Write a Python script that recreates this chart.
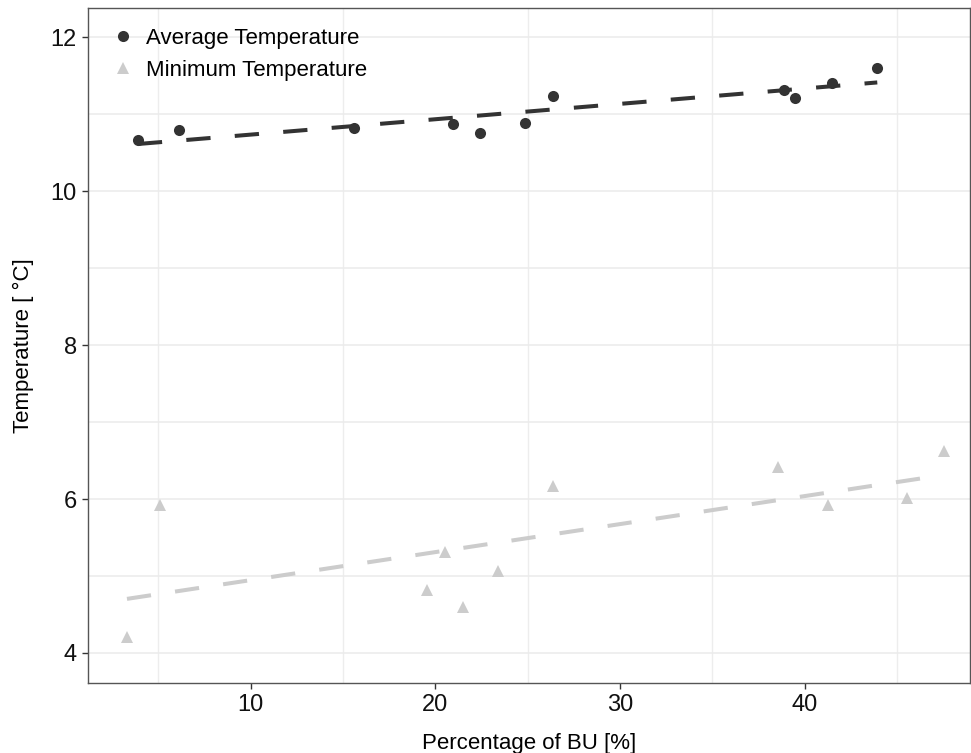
import numpy as np, matplotlib.pyplot as plt

plt.rcParams["font.family"]=["Liberation Sans","DejaVu Sans"]
plt.rcParams["lines.scale_dashes"]=False

series_names=["Average Temperature","Minimum Temperature"]
bu_avg=[3.90,6.11,15.58,20.96,22.40,24.87,26.39,38.90,39.49,41.50,43.93]
t_avg=[10.67,10.80,10.82,10.87,10.75,10.89,11.24,11.31,11.21,11.40,11.60]
bu_min=[3.31,5.08,19.53,20.51,21.52,23.39,26.39,38.57,41.28,45.55,47.52]
t_min=[4.21,5.92,4.82,5.31,4.60,5.06,6.17,6.41,5.92,6.02,6.62]
x_ticks=[10,20,30,40]; x_minor=[5,15,25,35,45]
y_ticks=[4,6,8,10,12]; y_minor=[5,7,9,11]

fig=plt.figure(figsize=(9.71,7.53),dpi=100)
ax=fig.add_axes([88/971,1-683/753,882/971,675/753])

for x,y,c,m,name in [(bu_avg,t_avg,"#333333","o",series_names[0]),
                     (bu_min,t_min,"#cccccc","^",series_names[1])]:
    x=np.asarray(x); y=np.asarray(y)
    k,b=np.polyfit(x,y,1); xx=np.array([x.min(),x.max()])
    ax.plot(xx,k*xx+b,color=c,lw=2.9,dashes=(17.5,17.5),dash_capstyle="butt",zorder=3)
    ax.plot(x,y,ls="none",marker=m,ms=8,mew=0,color=c,label=name,zorder=4)

ax.set_xlim(1.2,48.95); ax.set_ylim(3.61,12.38)
ax.set_xticks(x_ticks); ax.set_xticks(x_minor,minor=True)
ax.set_yticks(y_ticks); ax.set_yticks(y_minor,minor=True)
ax.grid(axis="x",which="minor",color="#ededed",lw=1.0,zorder=0)
ax.grid(axis="y",which="both",color="#ebebeb",lw=1.1,zorder=0)
ax.set_axisbelow(True)
ax.tick_params(which="major",length=4,width=1,color="#333333",labelsize=17,labelcolor="#111111",pad=4)
ax.tick_params(which="minor",length=0)
for s in ax.spines.values(): s.set_color("#555555"); s.set_linewidth(1)

ax.set_xlabel("Percentage of BU [%]",fontsize=16,labelpad=12)
ax.set_ylabel("Temperature [ °C]",fontsize=16,labelpad=12)

ax.legend(loc="upper left",bbox_to_anchor=(26/882,1-20/675),frameon=False,fontsize=16,
          handlelength=0.8,handletextpad=0.64,labelspacing=0.48,borderaxespad=0,borderpad=0)

fig.savefig("out.png",dpi=100)
